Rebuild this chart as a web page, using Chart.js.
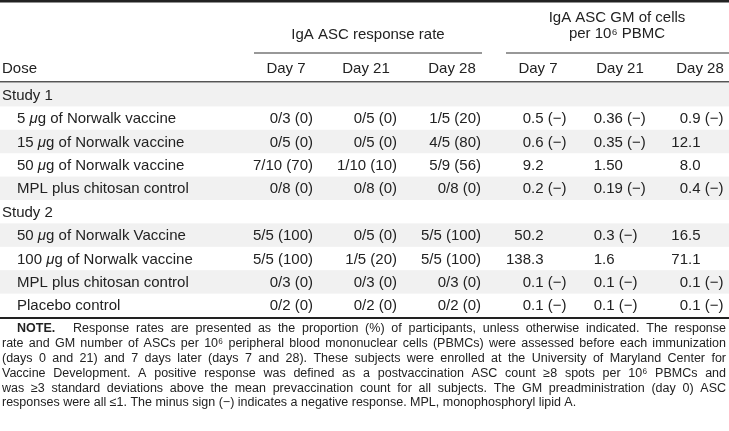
<!DOCTYPE html>
<html>
<head>
<meta charset="utf-8">
<script src="https://cdn.jsdelivr.net/npm/chart.js@4.4.0/dist/chart.umd.min.js"></script>
<style>
    html, body { margin: 0; padding: 0; background: #fff; }
    #wrap { width: 729px; height: 431px; position: relative; }
</style>
</head>
<body>
<div id="wrap"><canvas id="table"></canvas></div>
<script>
// -----------------------------
// TABLE DATA
// -----------------------------
const doses = [
    "Study 1",
    "5 μg of Norwalk vaccine",
    "15 μg of Norwalk vaccine",
    "50 μg of Norwalk vaccine",
    "MPL plus chitosan control",
    "Study 2",
    "50 μg of Norwalk Vaccine",
    "100 μg of Norwalk vaccine",
    "MPL plus chitosan control",
    "Placebo control"
];
const groupRows = ["Study 1", "Study 2"];

const dayLabels = ["Day 7", "Day 21", "Day 28", "Day 7", "Day 21", "Day 28"];
const rateTitle = ["IgA ASC response rate"];
const gmTitle = ["IgA ASC GM of cells", "per 10⁶ PBMC"];

const rateDay7  = [null, "0/3 (0)", "0/5 (0)", "7/10 (70)", "0/8 (0)", null, "5/5 (100)", "5/5 (100)", "0/3 (0)", "0/2 (0)"];
const rateDay21 = [null, "0/5 (0)", "0/5 (0)", "1/10 (10)", "0/8 (0)", null, "0/5 (0)", "1/5 (20)", "0/3 (0)", "0/2 (0)"];
const rateDay28 = [null, "1/5 (20)", "4/5 (80)", "5/9 (56)", "0/8 (0)", null, "5/5 (100)", "5/5 (100)", "0/3 (0)", "0/2 (0)"];
const gmDay7    = [null, "0.5 (−)", "0.6 (−)", "9.2", "0.2 (−)", null, "50.2", "138.3", "0.1 (−)", "0.1 (−)"];
const gmDay21   = [null, "0.36 (−)", "0.35 (−)", "1.50", "0.19 (−)", null, "0.3 (−)", "1.6", "0.1 (−)", "0.1 (−)"];
const gmDay28   = [null, "0.9 (−)", "12.1", "8.0", "0.4 (−)", null, "16.5", "71.1", "0.1 (−)", "0.1 (−)"];

const noteLead = "NOTE.";
const noteLines = [
    "Response rates are presented as the proportion (%) of participants, unless otherwise indicated. The response",
    "rate and GM number of ASCs per 10⁶ peripheral blood mononuclear cells (PBMCs) were assessed before each immunization",
    "(days 0 and 21) and 7 days later (days 7 and 28). These subjects were enrolled at the University of Maryland Center for",
    "Vaccine Development. A positive response was defined as a postvaccination ASC count ≥8 spots per 10⁶ PBMCs and",
    "was ≥3 standard deviations above the mean prevaccination count for all subjects. The GM preadministration (day 0) ASC",
    "responses were all ≤1. The minus sign (−) indicates a negative response. MPL, monophosphoryl lipid A."
];


// -----------------------------
// LAYOUT
// -----------------------------
const FONT = '"Liberation Sans", Arial, Helvetica, sans-serif';
const TEXT = "#222";
const COL_X = [313, 397, 481, 531, 602, 688];
const COL_ALIGN = ["right", "right", "right", "decimal", "decimal", "decimal"];
const HEAD_X = [286, 366, 452, 538, 620, 700];

const valueColumns = [rateDay7, rateDay21, rateDay28, gmDay7, gmDay21, gmDay28];


// -----------------------------
// TEXT HELPERS
// -----------------------------
function drawCell(ctx, text, x, y, align) {
    if (align === "decimal") {
        const dot = text.indexOf(".");
        const left = dot < 0 ? text : text.slice(0, dot);
        const right = dot < 0 ? "" : text.slice(dot);
        ctx.textAlign = "right";
        ctx.fillText(left, x, y);
        ctx.textAlign = "left";
        ctx.fillText(right, x, y);
    } else {
        ctx.textAlign = align;
        ctx.fillText(text, x, y);
    }
}

// dose labels: the micro sign is set in italic
function drawDose(ctx, text, x, y) {
    ctx.textAlign = "left";
    const parts = text.split("μ");
    parts.forEach((part, k) => {
        if (k > 0) {
            ctx.font = "italic 15px " + FONT;
            ctx.fillText("μ", x, y);
            x += ctx.measureText("μ").width;
            ctx.font = "15px " + FONT;
        }
        ctx.fillText(part, x, y);
        x += ctx.measureText(part).width;
    });
}

function drawJustified(ctx, text, x0, x1, y, justify) {
    const words = text.split(" ");
    const widths = words.map(w => ctx.measureText(w).width);
    const total = widths.reduce((a, b) => a + b, 0);
    let gap = ctx.measureText(" ").width;
    let sx = 1;
    if (justify && words.length > 1) {
        gap = (x1 - x0 - total) / (words.length - 1);
        if (gap < 2) {
            gap = 2;
            sx = (x1 - x0) / (total + gap * (words.length - 1));
        }
    }
    ctx.save();
    ctx.translate(x0, y);
    ctx.scale(sx, 1);
    ctx.textAlign = "left";
    let x = 0;
    words.forEach((w, k) => {
        ctx.fillText(w, x, 0);
        x += widths[k] + gap;
    });
    ctx.restore();
}


// -----------------------------
// TABLE PLUGIN
// -----------------------------
const tablePlugin = {
    id: "tablePlugin",

    beforeDatasetsDraw(chart) {
        const { ctx, scales: { y } } = chart;
        const band = y.getPixelForValue(1) - y.getPixelForValue(0);
        ctx.save();
        ctx.fillStyle = "#f1f1f1";
        doses.forEach((d, i) => {
            if (i % 2 === 0) {
                ctx.fillRect(0, y.getPixelForValue(i) - band / 2, chart.width, band);
            }
        });
        ctx.restore();
    },

    afterDatasetsDraw(chart) {
        const ctx = chart.ctx;
        ctx.save();
        ctx.fillStyle = TEXT;
        ctx.textBaseline = "middle";
        ctx.font = "15px " + FONT;

        chart.data.datasets.forEach((ds, d) => {
            const meta = chart.getDatasetMeta(d);
            meta.data.forEach((pt, j) => {
                const raw = ds.data[j];
                if (ds.kind === "dose") drawDose(ctx, raw.text, pt.x, pt.y + 1);
                else drawCell(ctx, raw.text, pt.x, pt.y + 1, COL_ALIGN[d - 1]);
            });
        });
        ctx.restore();
    },

    afterDraw(chart) {
        const { ctx, chartArea, width } = chart;
        ctx.save();

        // rules
        ctx.fillStyle = "#222";
        ctx.fillRect(0, 0, width, 2.5);
        ctx.fillRect(0, chartArea.bottom, width, 2);
        ctx.fillStyle = "#555";
        ctx.fillRect(0, chartArea.top - 2, width, 1.5);
        ctx.fillStyle = "#333";
        ctx.fillRect(254, 52.5, 228, 1);
        ctx.fillRect(506, 52.5, width - 506, 1);

        // header text
        ctx.fillStyle = TEXT;
        ctx.textBaseline = "middle";
        ctx.font = "15px " + FONT;
        ctx.textAlign = "center";
        ctx.fillText(rateTitle[0], 368, 35);
        ctx.fillText(gmTitle[0], 617, 18);
        ctx.fillText(gmTitle[1], 617, 34);
        dayLabels.forEach((lab, c) => ctx.fillText(lab, HEAD_X[c], 69));
        ctx.textAlign = "left";
        ctx.fillText("Dose", 2, 69);

        // note
        ctx.font = "bold 12.5px " + FONT;
        ctx.fillText(noteLead, 17, 329);
        ctx.font = "12.5px " + FONT;
        noteLines.forEach((line, k) => {
            const x0 = k === 0 ? 73 : 2;
            drawJustified(ctx, line, x0, 726, 329 + k * 14.8, k < noteLines.length - 1);
        });
        ctx.restore();
    }
};


// -----------------------------
// INIT TABLE
// -----------------------------
window.onload = function () {

    const doseData = doses.map((d, i) => ({
        x: groupRows.includes(d) ? 2 : 17,
        y: i,
        text: d
    }));

    const datasets = [{ kind: "dose", data: doseData, pointRadius: 0 }];

    valueColumns.forEach((col, c) => {
        datasets.push({
            label: dayLabels[c],
            data: col
                .map((v, i) => (v === null ? null : { x: COL_X[c], y: i, text: v }))
                .filter(Boolean),
            pointRadius: 0
        });
    });

    new Chart(document.getElementById("table"), {
        type: "scatter",
        data: { datasets: datasets },
        options: {
            responsive: true,
            maintainAspectRatio: false,
            animation: false,
            devicePixelRatio: 1,
            layout: { padding: { top: 83, bottom: 114, left: 0, right: 0 } },
            plugins: { legend: { display: false }, tooltip: { enabled: false } },
            scales: {
                x: { type: "linear", min: 0, max: 729, display: false },
                y: { type: "linear", min: -0.5, max: doses.length - 0.5, reverse: true, display: false }
            }
        },
        plugins: [tablePlugin]
    });
};
</script>
</body>
</html>
